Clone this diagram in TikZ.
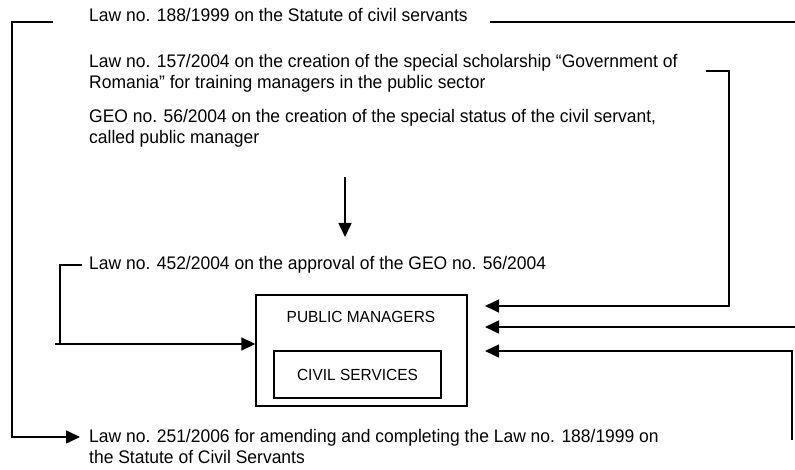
\documentclass[tikz,border=0pt]{standalone}
\usepackage{fontspec}
\setmainfont[FakeStretch=0.96]{Liberation Sans}
\usetikzlibrary{arrows.meta}
\begin{document}
\begin{tikzpicture}[x=1pt,y=-1pt,
  lawtext/.style={anchor=base west, inner sep=0pt, align=left, font=\fontsize{18.2}{21}\selectfont},
  boxtext/.style={inner sep=0pt, font=\fontsize{16.1}{18}\selectfont},
  conn/.style={line width=1.6pt},
  arr/.style={conn, -{Triangle[length=14pt,width=13pt]}},
  frame/.style={draw, line width=1.4pt, inner sep=0pt}]
\useasboundingbox (0,0) rectangle (795,470);
% texts (base anchor = baseline of the last line)
\node[lawtext] (t1) at (89,22) {Law no. 188/1999 on the Statute of civil servants};
\node[lawtext] (t2) at (89,89) {Law no. 157/2004 on the creation of the special scholarship “Government of\\Romania” for training managers in the public sector};
\node[lawtext] (t3) at (89,144) {GEO no. 56/2004 on the creation of the special status of the civil servant,\\called public manager};
\node[lawtext] (t4) at (89,270) {Law no. 452/2004 on the approval of the GEO no. 56/2004};
\node[lawtext] (t5) at (89,463) {Law no. 251/2006 for amending and completing the Law no. 188/1999 on\\the Statute of Civil Servants};
% boxes
\node[frame, minimum width=211pt, minimum height=111pt] (pm) at (361.5,350.5) {};
\node[boxtext] (pmt) at (361,317) {PUBLIC MANAGERS};
\node[frame, minimum width=167pt, minimum height=47pt] (cs) at (357.5,374.5) {};
\node[boxtext] (cst) at (cs.center) {CIVIL SERVICES};
% coordinates
\coordinate (a1) at (53,22);
\coordinate (a2) at (12,22);
\coordinate (a3) at (12,437);
\coordinate (a4) at (80,437);
\coordinate (b1) at (490,22);
\coordinate (b2) at (795,22);
\coordinate (c1) at (706,71);
\coordinate (c2) at (729,71);
\coordinate (c3) at (729,306);
\coordinate (c4) at (485,306);
\coordinate (d1) at (795,327);
\coordinate (d2) at (485,327);
\coordinate (e1) at (792,440);
\coordinate (e2) at (792,351);
\coordinate (e3) at (485,351);
\coordinate (f1) at (82,265);
\coordinate (f2) at (60,265);
\coordinate (f3) at (60,344);
\coordinate (f4) at (55,344);
\coordinate (g1) at (345,177);
\coordinate (g2) at (345,237);
% connectors
\draw[arr] (a1) -- (a2) -- (a3) -- (a4);
\draw[conn] (b1) -- (b2);
\draw[arr] (c1) -- (c2) -- (c3) -- (c4);
\draw[arr] (d1) -- (d2);
\draw[arr] (e1) -- (e2) -- (e3);
\draw[conn] (f1) -- (f2) -- (f3);
\draw[arr] (f4) -- (pm.west |- f4);
\draw[arr] (g1) -- (g2);
\end{tikzpicture}
\end{document}
